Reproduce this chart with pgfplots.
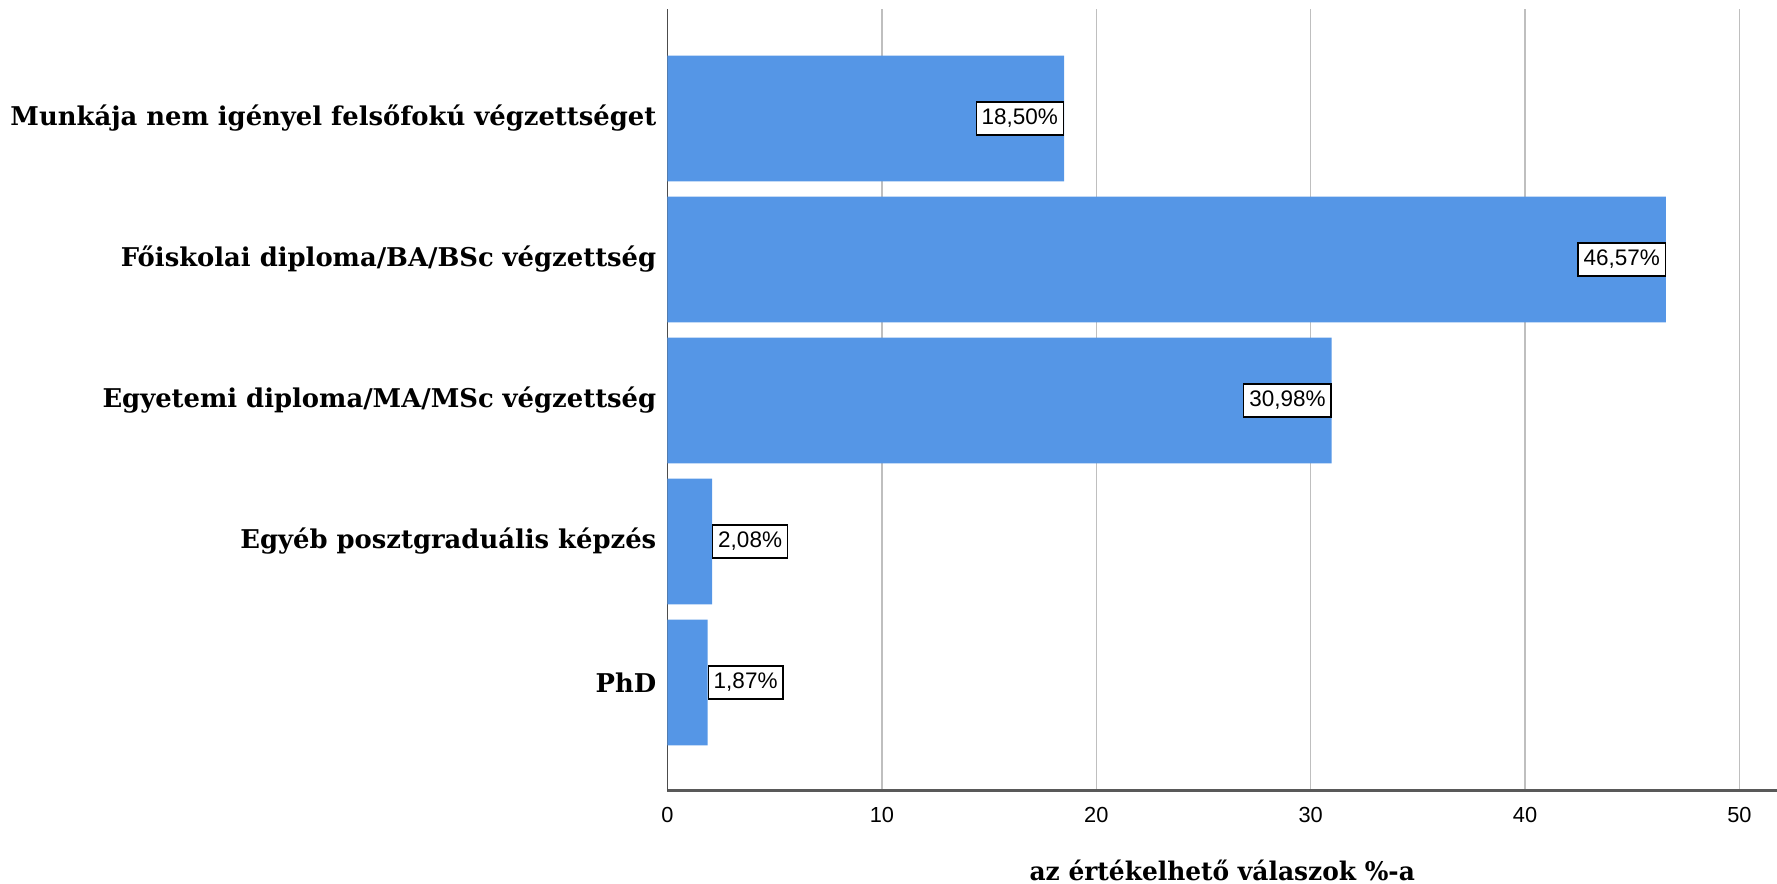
\documentclass[border=0pt]{standalone}
\usepackage{pgfplots}
\pgfplotsset{compat=1.18}
\usepackage{fontspec}
\setmainfont{Liberation Sans}
\newfontfamily\labserif{DejaVu Serif}
\definecolor{barblue}{RGB}{85,150,230}
\begin{document}
\begin{tikzpicture}
\useasboundingbox (0,0) rectangle (177.7mm,88.4mm);
\begin{axis}[
    at={(66.75mm,9.3mm)}, anchor=south west,
    scale only axis,
    width=110.95mm, height=78.2mm,
    xbar, bar width=0.892, bar shift=0pt,
    xmin=0, xmax=51.75, ymin=-0.77, ymax=4.776,
    axis x line*=bottom, axis y line*=left,
    x axis line style={black!65, line width=0.3mm},
    y axis line style={black!70, line width=0.15mm},
    major tick length=0pt,
    /pgf/number format/assume math mode=true,
    xtick={0,10,...,50},
    xmajorgrids, grid style={black!25, line width=0.15mm},
    ytick={0,1,2,3,4},
    yticklabels={PhD, Egyéb posztgraduális képzés, Egyetemi diploma/MA/MSc végzettség, Főiskolai diploma/BA/BSc végzettség, Munkája nem igényel felsőfokú végzettséget},
    yticklabel style={font=\labserif\bfseries\fontsize{7.35}{8}\selectfont, anchor=east, inner sep=0pt, xshift=-1.05mm},
    xticklabel style={font=\fontsize{6.2}{7}\selectfont, inner sep=0pt, anchor=north, yshift=-1.6mm},
    xlabel={\scalebox{0.97}[1]{az értékelhető válaszok \%-a}},
    xlabel style={font=\labserif\bfseries\fontsize{7.3}{8}\selectfont, at={(axis description cs:0.5,0)}, anchor=center, yshift=-7.9mm},
    nodes near coords={\pgfmathprintnumber[fixed,fixed zerofill,precision=2,use comma]{\pgfplotspointmeta}\%},
    point meta=explicit,
    every node near coord/.append style={font=\fontsize{6.4}{7}\selectfont, draw=black, fill=white, line width=0.13mm, inner xsep=0.55mm, inner ysep=0mm, minimum height=3.3mm, xshift=0pt},
]
\addplot[fill=barblue, draw=none, every node near coord/.append style={anchor=east}] coordinates {
    (18.50,4) [18.50]
    (46.57,3) [46.57]
    (30.98,2) [30.98]
};
\addplot[fill=barblue, draw=none, every node near coord/.append style={anchor=west}] coordinates {
    (2.08,1) [2.08]
    (1.87,0) [1.87]
};
\end{axis}
\end{tikzpicture}
\end{document}
